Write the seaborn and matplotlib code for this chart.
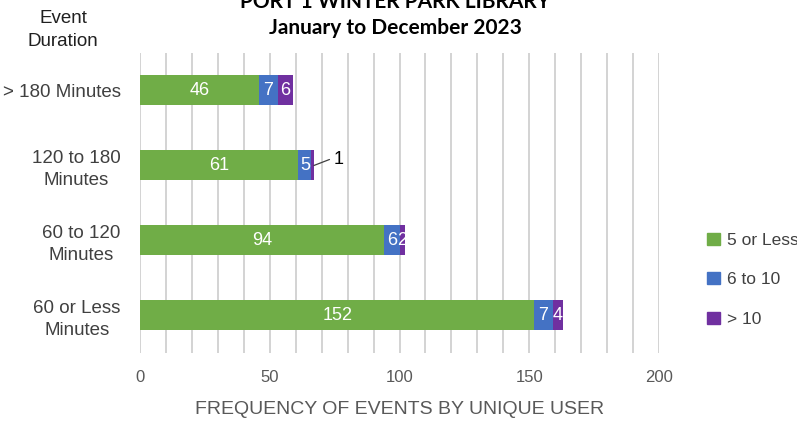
import matplotlib
matplotlib.use("Agg")
import matplotlib.pyplot as plt
import seaborn as sns
import pandas as pd
import numpy as np

# Event duration categories and counts by number of unique users
durations = ["> 180 Minutes", "120 to 180\nMinutes", "60 to 120\nMinutes", "60 or Less\nMinutes"]
five_or_less = [46, 61, 94, 152]
six_to_ten = [7, 5, 6, 7]
over_ten = [6, 1, 2, 4]
series_names = ["5 or Less", "6 to 10", "> 10"]
colors = ["#70AD47", "#4472C4", "#7030A0"]
x_ticks = [0, 50, 100, 150, 200]

sns.set_theme(style="white")
plt.rcParams["font.family"] = ["Liberation Sans", "DejaVu Sans"]

fig = plt.figure(figsize=(7.97, 4.24), dpi=100)
ax = fig.add_axes([0.1757, 0.1675, 0.6512, 0.7075])

series = [five_or_less, six_to_ten, over_ten]
cum = np.cumsum(np.array(series), axis=0)
df = pd.DataFrame({"duration": durations})

# Stacked bars: draw cumulative totals from the largest down
for i in reversed(range(len(series))):
    df["value"] = cum[i]
    sns.barplot(data=df, y="duration", x="value", orient="h", color=colors[i],
                width=0.4, saturation=1, ax=ax, linewidth=0)

# Gridlines every 10
for g in range(0, 201, 10):
    ax.axvline(g, color="#D0D0D0", lw=1.3, zorder=0)
ax.set_axisbelow(True)
ax.set_xlim(0, 200)
ax.set_ylim(3.5, -0.5)
for s in ax.spines.values():
    s.set_visible(False)

ax.set_xticks(x_ticks)
ax.set_xticklabels([str(t) for t in x_ticks], color="#595959", fontsize=12)
ax.tick_params(axis="x", length=0, pad=12)
ax.tick_params(axis="y", length=0, pad=14)
ax.set_yticks(range(len(durations)))
ax.set_yticklabels(durations, color="#404040", fontsize=13.5, ha="right",
                   multialignment="center", linespacing=1.38)
ax.set_ylabel("")
ax.set_xlabel("FREQUENCY OF EVENTS BY UNIQUE USER", color="#595959", fontsize=14, labelpad=12)

# Value labels inside each segment
for i, vals in enumerate(series):
    starts = cum[i] - np.array(vals)
    for j, v in enumerate(vals):
        if v <= 1:
            end = cum[i][j]
            ax.plot([end, end + 6], [j, j - 0.08], color="#404040", lw=0.9)
            ax.text(end + 7.5, j - 0.08, str(v), color="#000000", fontsize=13,
                    ha="left", va="center")
        else:
            ax.text(starts[j] + v / 2, j, str(v), color="white", fontsize=13,
                    ha="center", va="center")

# Legend
handles = [plt.Rectangle((0, 0), 1, 1, color=c) for c in colors]
fig.legend(handles, series_names, loc="center left", bbox_to_anchor=(0.868, 0.34),
           frameon=False, fontsize=12.5, labelcolor="#404040", handlelength=0.7,
           handleheight=0.7, handletextpad=0.4, labelspacing=1.4)

# Titles
fig.text(0.496, 1.0 - 2 / 424, "PORT 1 WINTER PARK LIBRARY", ha="center", va="center",
         fontsize=15, fontweight="bold", family=["Lato", "DejaVu Sans"], color="#000000")
fig.text(0.496, 1.0 - 28 / 424, "January to December 2023", ha="center", va="center",
         fontsize=15, fontweight="bold", family=["Lato", "DejaVu Sans"], color="#000000")
fig.text(0.079, 1.0 - 30 / 424, "Event\nDuration", ha="center", va="center",
         fontsize=13.5, color="#202020", linespacing=1.5)

fig.savefig("out.png", dpi=100)
